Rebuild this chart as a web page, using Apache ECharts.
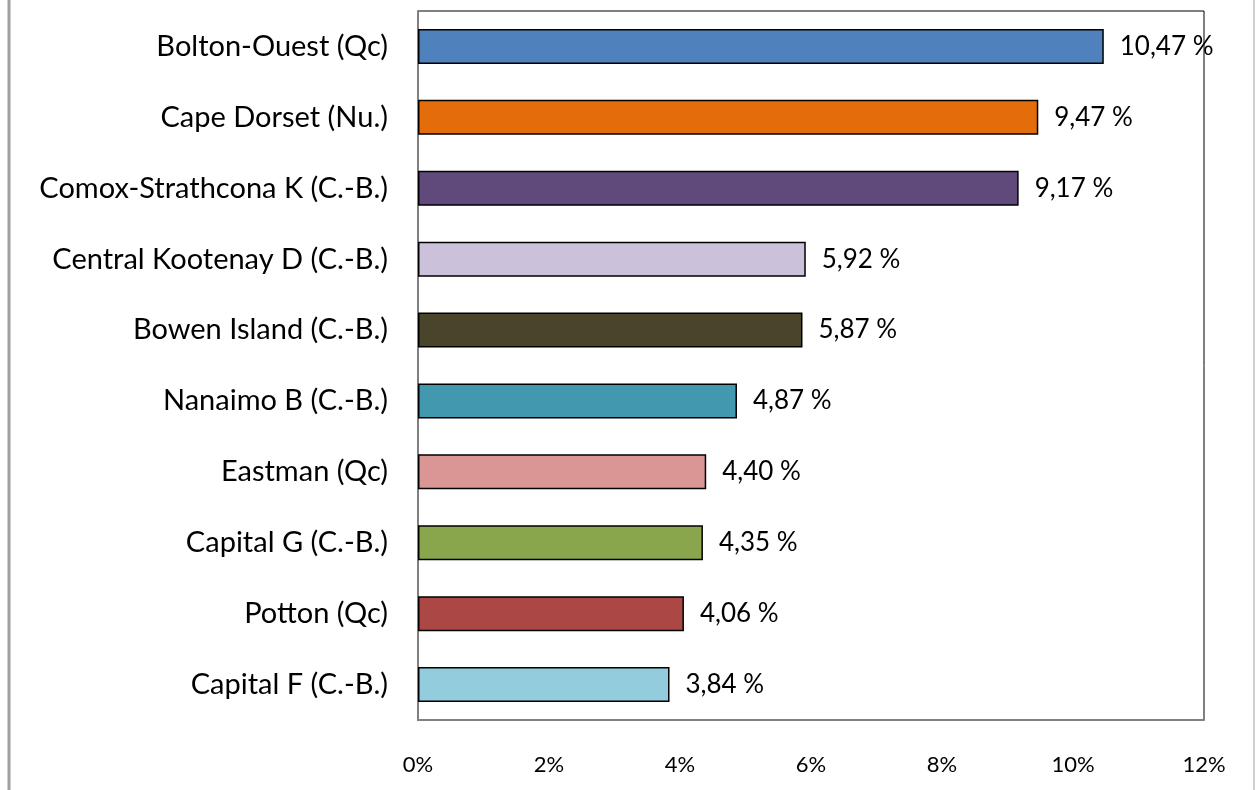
<!DOCTYPE html>
<html>
<head>
<meta charset="utf-8">
<script src="https://cdn.jsdelivr.net/npm/echarts@6/dist/echarts.min.js"></script>
<style>
  html, body { margin: 0; padding: 0; background: #fff; }
  #chart { width: 1257px; height: 790px; }
</style>
</head>
<body>
<div id="chart"></div>
<script>
// catégories, de haut en bas
const categories = [
  "Bolton-Ouest (Qc)",
  "Cape Dorset (Nu.)",
  "Comox-Strathcona K (C.-B.)",
  "Central Kootenay D (C.-B.)",
  "Bowen Island (C.-B.)",
  "Nanaimo B (C.-B.)",
  "Eastman (Qc)",
  "Capital G (C.-B.)",
  "Potton (Qc)",
  "Capital F (C.-B.)"
];
const values = [10.47, 9.47, 9.17, 5.92, 5.87, 4.87, 4.40, 4.35, 4.06, 3.84];
const barColors = [
  "#4F81BD", "#E46C0A", "#604A7B", "#CCC1DA", "#4A452A",
  "#4198AF", "#D99694", "#8AA64D", "#AB4745", "#93CDDD"
];

const font = "Lato, 'Open Sans', sans-serif";

const option = {
  backgroundColor: "#fff",
  animation: false,
  grid: {
    left: 418,
    right: 53,
    top: 11,
    bottom: 70,
    show: true,
    borderColor: "#000",
    borderWidth: 1
  },
  graphic: [
    { type: "line", shape: { x1: 9, y1: 0, x2: 9, y2: 790 }, style: { stroke: "#a0a0a0", lineWidth: 3 } },
    { type: "line", shape: { x1: 1254, y1: 0, x2: 1254, y2: 790 }, style: { stroke: "#d0d0d0", lineWidth: 2 } }
  ],
  xAxis: {
    type: "value",
    min: 0,
    max: 12,
    interval: 2,
    splitLine: { show: false },
    axisTick: { show: false },
    axisLine: { show: true, lineStyle: { color: "#808080", width: 2 } },
    axisLabel: {
      formatter: v => v + "%",
      color: "#000",
      fontFamily: font,
      fontSize: 22,
      margin: 34
    }
  },
  yAxis: {
    type: "category",
    inverse: true,
    data: categories,
    axisTick: { show: false },
    axisLine: { show: true, lineStyle: { color: "#808080", width: 2 } },
    axisLabel: {
      color: "#000",
      fontFamily: font,
      fontSize: 29,
      margin: 30
    }
  },
  series: [
    {
      type: "bar",
      data: values.map((v, i) => ({
        value: v,
        itemStyle: { color: barColors[i] }
      })),
      barWidth: 35,
      itemStyle: { borderColor: "#000", borderWidth: 1.5 },
      label: {
        show: true,
        position: "right",
        distance: 16,
        color: "#000",
        fontFamily: font,
        fontSize: 26,
        formatter: p => p.value.toFixed(2).replace(".", ",") + " %"
      }
    }
  ]
};

const myChart = echarts.init(document.getElementById("chart"));
myChart.setOption(option);
</script>
</body>
</html>
